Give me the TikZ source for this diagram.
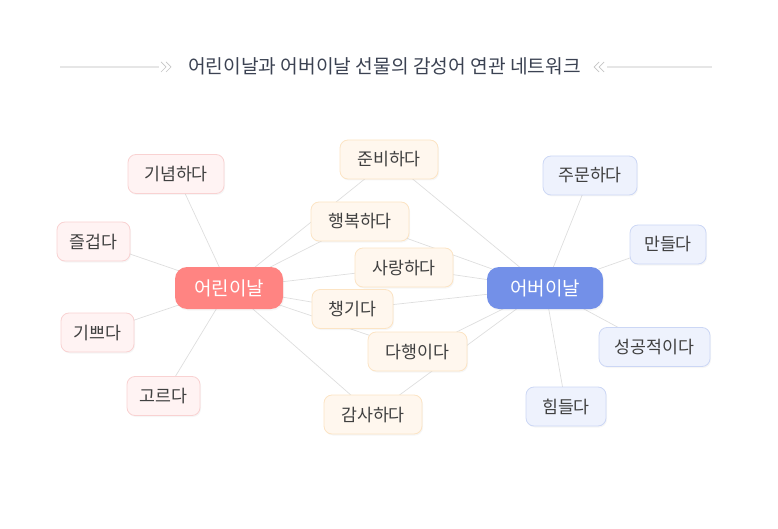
\documentclass[tikz,border=0pt]{standalone}
\usepackage{fontspec}
\setmainfont{Noto Sans CJK KR}
\usetikzlibrary{backgrounds, shadows}
\definecolor{wordtext}{HTML}{404040}
\definecolor{titletext}{HTML}{3B4252}
\definecolor{linkgray}{HTML}{DEDEDE}
\definecolor{rulegray}{HTML}{E6E6E6}
\definecolor{chevgray}{HTML}{C4C4C4}
\definecolor{kidfill}{HTML}{FFF3F3}
\definecolor{kidline}{HTML}{F9D2D2}
\definecolor{bothfill}{HTML}{FFF7EE}
\definecolor{bothline}{HTML}{FCE4C4}
\definecolor{parfill}{HTML}{EEF2FD}
\definecolor{parline}{HTML}{CCD7F5}
\definecolor{kidhub}{HTML}{FF8482}
\definecolor{parhub}{HTML}{7390E8}

\begin{document}
\begin{tikzpicture}[x=1pt, y=-1pt]
\tikzstyle{every node}+=[text=wordtext, font=\fontsize{17.3}{19}\selectfont, text height=14pt, text depth=1pt]
\tikzstyle{word}=[rectangle, rounded corners=8pt, line width=0.8pt, inner xsep=0pt, minimum height=39pt, drop shadow={opacity=0.07, shadow xshift=1pt, shadow yshift=-1.5pt}]
\tikzstyle{kid}=[word, fill=kidfill, draw=kidline]
\tikzstyle{both}=[word, fill=bothfill, draw=bothline]
\tikzstyle{par}=[word, fill=parfill, draw=parline]
\tikzstyle{hub}=[rectangle, rounded corners=12pt, minimum height=42pt, text=white, font=\fontsize{19}{21}\selectfont, text height=15.5pt, text depth=1pt, drop shadow={opacity=0.07, shadow xshift=1pt, shadow yshift=-1.5pt}]
\tikzstyle{link}=[linkgray, line width=0.7pt]
\tikzstyle{chev}=[chevgray, line width=0.7pt]
\useasboundingbox (0,0) rectangle (778,529);

\node[text=titletext, font=\fontsize{19.2}{22}\selectfont] (title) at (384.5,67) {어린이날과 어버이날 선물의 감성어 연관 네트워크};
\coordinate (ruleL1) at (60,67);
\coordinate (ruleL2) at (159,67);
\coordinate (ruleR1) at (607,67);
\coordinate (ruleR2) at (712,67);
\draw[rulegray, line width=1.5pt] (ruleL1) -- (ruleL2);
\draw[rulegray, line width=1.5pt] (ruleR1) -- (ruleR2);
\draw[chev] (161,62) -- (166,67) -- (161,72);
\draw[chev] (166,62) -- (171,67) -- (166,72);
\draw[chev] (599,62) -- (594,67) -- (599,72);
\draw[chev] (604,62) -- (599,67) -- (604,72);

\node[hub, fill=kidhub, minimum width=108pt] (kids) at (229,288) {어린이날};
\node[hub, fill=parhub, minimum width=116pt] (parents) at (545,288) {어버이날};

\node[kid, minimum width=96pt] (ginyeom) at (176,174) {기념하다};
\node[kid, minimum width=73pt] (jeulgeop) at (93.5,241.5) {즐겁다};
\node[kid, minimum width=73pt] (gippeu) at (97.5,332.5) {기쁘다};
\node[kid, minimum width=73pt] (goreu) at (163.5,396) {고르다};

\node[both, minimum width=98pt] (junbi) at (389,159.5) {준비하다};
\node[both, minimum width=98pt] (haengbok) at (360,221.5) {행복하다};
\node[both, minimum width=98pt] (sarang) at (404,267.5) {사랑하다};
\node[both, minimum width=81pt] (chaenggi) at (352.5,309) {챙기다};
\node[both, minimum width=99pt] (dahaeng) at (417.5,351.5) {다행이다};
\node[both, minimum width=98pt] (gamsa) at (373,414.5) {감사하다};

\node[par, minimum width=94pt] (jumun) at (590,175.5) {주문하다};
\node[par, minimum width=76pt] (mandeul) at (668,244.5) {만들다};
\node[par, minimum width=111pt] (seonggong) at (654.5,347) {성공적이다};
\node[par, minimum width=80pt] (himdeul) at (566,406.5) {힘들다};

\begin{pgfonlayer}{background}
\draw[link] (kids.center) -- (ginyeom.center);
\draw[link] (kids.center) -- (jeulgeop.center);
\draw[link] (kids.center) -- (gippeu.center);
\draw[link] (kids.center) -- (goreu.center);
\draw[link] (kids.center) -- (junbi.center);
\draw[link] (kids.center) -- (haengbok.center);
\draw[link] (kids.center) -- (sarang.center);
\draw[link] (kids.center) -- (chaenggi.center);
\draw[link] (kids.center) -- (dahaeng.center);
\draw[link] (kids.center) -- (gamsa.center);
\draw[link] (parents.center) -- (jumun.center);
\draw[link] (parents.center) -- (mandeul.center);
\draw[link] (parents.center) -- (seonggong.center);
\draw[link] (parents.center) -- (himdeul.center);
\draw[link] (parents.center) -- (junbi.center);
\draw[link] (parents.center) -- (haengbok.center);
\draw[link] (parents.center) -- (sarang.center);
\draw[link] (parents.center) -- (chaenggi.center);
\draw[link] (parents.center) -- (dahaeng.center);
\draw[link] (parents.center) -- (gamsa.center);
\end{pgfonlayer}
\end{tikzpicture}
\end{document}
